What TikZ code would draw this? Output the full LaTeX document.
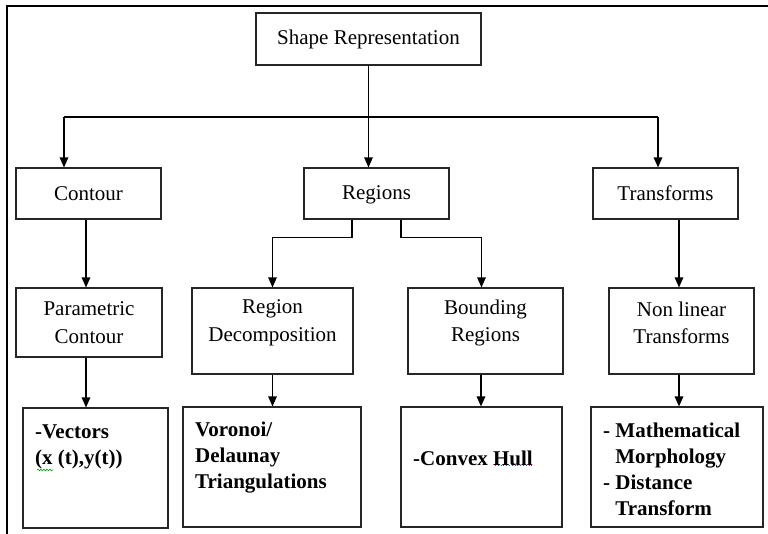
\documentclass[tikz,border=0pt]{standalone}
\usepackage{fontspec}
\setmainfont{Liberation Serif}
\usetikzlibrary{arrows.meta,decorations.pathmorphing}
\begin{document}
\begin{tikzpicture}[x=1pt,y=-1pt,
  box/.style={draw=black!85,line width=1.1pt,inner sep=0pt,align=center,font=\fontsize{21}{27.5}\selectfont},
  lbl/.style={inner sep=0pt,align=center,font=\fontsize{21}{27.5}\selectfont},
  btxt/.style={inner sep=0pt,align=left,anchor=west,font=\fontsize{21}{26}\selectfont\bfseries},
  arr/.style={line width=1.3pt,-{Triangle[length=10pt,width=8.5pt]}},
  con/.style={line width=1.3pt}]
\useasboundingbox (0,0) rectangle (768,534);
\draw[line width=2.4pt] (7,534) -- (7,6) -- (768,6);

\node[box,minimum width=225pt,minimum height=52pt] (shape) at (368.5,39) {Shape Representation};
\node[box,minimum width=145pt,minimum height=51pt] (contour) at (88.5,193.5) {Contour};
\node[box,minimum width=145pt,minimum height=51pt] (regions) at (376.5,193.5) {};
\node[lbl] (regionst) at (376.5,195) {Regions};
\node[box,minimum width=145pt,minimum height=51pt] (transforms) at (665.5,193.5) {Transforms};

\node[box,minimum width=146pt,minimum height=69pt] (param) at (89,322.5) {Parametric\\Contour};
\node[box,minimum width=161pt,minimum height=86pt] (regdec) at (272.5,331) {};
\node[lbl] (regdect) at (272.5,323) {Region\\Decomposition};
\node[box,minimum width=155pt,minimum height=86pt] (bound) at (485.5,331) {};
\node[lbl] (boundt) at (485.5,323) {Bounding\\Regions};
\node[box,minimum width=145pt,minimum height=86pt] (nonlin) at (681.5,331) {};
\node[lbl] (nonlint) at (681.5,323) {Non linear\\Transforms};

\node[box,minimum width=145pt,minimum height=120pt] (vec) at (95.5,468) {};
\node[btxt] (vect) at (35,446.5) {-Vectors\\(x (t),y(t))};
\node[box,minimum width=178pt,minimum height=120pt] (voro) at (272,467) {};
\node[btxt] (vorot) at (195,458) {Voronoi/\\Delaunay\\Triangulations};
\node[box,minimum width=161pt,minimum height=120pt] (hull) at (481.5,467) {};
\node[btxt] (hullt) at (413,458) {-Convex Hull};
\node[box,minimum width=172pt,minimum height=120pt] (math) at (677,467) {};
\node[btxt] (matht) at (603,469) {- Mathematical\\\hspace*{12.2pt}Morphology\\- Distance\\\hspace*{12.2pt}Transform};

\coordinate (jl) at (64,117);
\coordinate (jr) at (658,117);
\draw[con] (jl) -- (jr);
\draw[arr] (shape.south) -- (shape.south |- regions.north);
\draw[arr] (jl) -- (jl |- contour.north);
\draw[arr] (jr) -- (jr |- transforms.north);

\draw[arr] ([xshift=-2.5pt]contour.south) -- ([xshift=-2.5pt]contour.south |- param.north);
\draw[arr] ([xshift=-24.5pt]regions.south) -- ++(0,18) -| (regdec.north);
\draw[arr] ([xshift=24.5pt]regions.south) -- ++(0,18) -| ([xshift=-4pt]bound.north);
\draw[arr] ([xshift=13.5pt]transforms.south) -- ([xshift=13.5pt]transforms.south |- nonlin.north);

\draw[arr] ([xshift=-3pt]param.south) -- ([xshift=-3pt]param.south |- vec.north);
\draw[arr] (regdec.south) -- (regdec.south |- voro.north);
\draw[arr] ([xshift=-4.5pt]bound.south) -- ([xshift=-4.5pt]bound.south |- hull.north);
\draw[arr] ([xshift=-2.5pt]nonlin.south) -- ([xshift=-2.5pt]nonlin.south |- math.north);

\draw[green!60!black,line width=0.6pt,decorate,decoration={snake,amplitude=0.8pt,segment length=3pt}] (37,470) -- (53,470);
\draw[magenta,line width=0.8pt,dotted] (495,465) -- (533,465);
\end{tikzpicture}
\end{document}
